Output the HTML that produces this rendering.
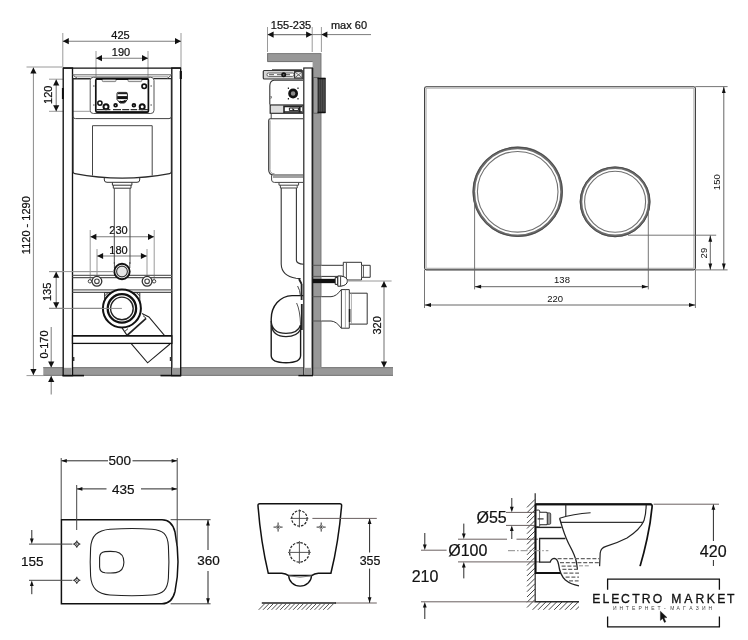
<!DOCTYPE html>
<html lang="ru">
<head>
<meta charset="utf-8">
<title>Схема — ELECTRO MARKET</title>
<style>
html,body{margin:0;padding:0;background:#fff;}
body{width:748px;height:640px;overflow:hidden;}
svg{display:block;font-family:"Liberation Sans",sans-serif;filter:blur(0.35px);}
svg text{font-family:"Liberation Sans",sans-serif;}
</style>
</head>
<body>
<svg width="748" height="640" viewBox="0 0 748 640">
<rect width="748" height="640" fill="#fff"/>
<g id="front">
<rect x="43.3" y="367.1" width="349.7" height="8.8" fill="#989898"/>
<line x1="43.3" y1="367.7" x2="393" y2="367.7" stroke="#808080" stroke-width="1.2" />
<line x1="43.3" y1="375.3" x2="393" y2="375.3" stroke="#808080" stroke-width="1.2" />
<line x1="62.8" y1="33" x2="62.8" y2="67" stroke="#9a9a9a" stroke-width="1" />
<line x1="181" y1="33" x2="181" y2="67" stroke="#9a9a9a" stroke-width="1" />
<line x1="96" y1="51" x2="96" y2="78" stroke="#9a9a9a" stroke-width="1" />
<line x1="148" y1="51" x2="148" y2="78" stroke="#9a9a9a" stroke-width="1" />
<line x1="62.8" y1="41.2" x2="181" y2="41.2" stroke="#7c7c7c" stroke-width="1.1" />
<polygon points="62.8,41.2 68.8,38.1 68.8,44.3" fill="#111"/>
<polygon points="181.0,41.2 175.0,38.1 175.0,44.3" fill="#111"/>
<text x="120.5" y="38.8" font-size="11" text-anchor="middle" fill="#111"  stroke="#111" stroke-width="0.22">425</text>
<line x1="96" y1="58.2" x2="148" y2="58.2" stroke="#7c7c7c" stroke-width="1.1" />
<polygon points="96.0,58.2 102.0,55.1 102.0,61.3" fill="#111"/>
<polygon points="148.0,58.2 142.0,55.1 142.0,61.3" fill="#111"/>
<text x="121" y="56.2" font-size="11" text-anchor="middle" fill="#111"  stroke="#111" stroke-width="0.22">190</text>
<line x1="26.5" y1="67" x2="62" y2="67" stroke="#9a9a9a" stroke-width="1" />
<line x1="26.5" y1="375.6" x2="43.5" y2="375.6" stroke="#9a9a9a" stroke-width="1" />
<line x1="33.4" y1="67.5" x2="33.4" y2="375" stroke="#8a8a8a" stroke-width="1" />
<polygon points="33.4,67.5 30.3,73.5 36.5,73.5" fill="#111"/>
<polygon points="33.4,375.0 30.3,369.0 36.5,369.0" fill="#111"/>
<text x="30.3" y="225.2" font-size="11" text-anchor="middle" fill="#111" transform="rotate(-90 30.3 225.2)"  stroke="#111" stroke-width="0.22">1120 - 1290</text>
<line x1="49" y1="79.2" x2="90" y2="79.2" stroke="#9a9a9a" stroke-width="1" />
<line x1="49" y1="111.3" x2="90" y2="111.3" stroke="#9a9a9a" stroke-width="1" />
<line x1="56.2" y1="79.4" x2="56.2" y2="111.2" stroke="#7c7c7c" stroke-width="1.1" />
<polygon points="56.2,79.4 53.1,85.4 59.3,85.4" fill="#111"/>
<polygon points="56.2,111.2 53.1,105.2 59.3,105.2" fill="#111"/>
<text x="52.5" y="94.8" font-size="11" text-anchor="middle" fill="#111" transform="rotate(-90 52.5 94.8)"  stroke="#111" stroke-width="0.22">120</text>
<line x1="49" y1="271.6" x2="114" y2="271.6" stroke="#9a9a9a" stroke-width="1" />
<line x1="49" y1="308.3" x2="122" y2="308.3" stroke="#9a9a9a" stroke-width="1" />
<line x1="56.2" y1="271.8" x2="56.2" y2="308.2" stroke="#7c7c7c" stroke-width="1.1" />
<polygon points="56.2,271.8 53.1,277.8 59.3,277.8" fill="#111"/>
<polygon points="56.2,308.2 53.1,302.2 59.3,302.2" fill="#111"/>
<text x="51.1" y="291.8" font-size="11" text-anchor="middle" fill="#111" transform="rotate(-90 51.1 291.8)"  stroke="#111" stroke-width="0.22">135</text>
<line x1="51.2" y1="327" x2="51.2" y2="367" stroke="#7c7c7c" stroke-width="1" />
<polygon points="51.2,367.6 48.1,361.6 54.3,361.6" fill="#111"/>
<line x1="51.2" y1="376" x2="51.2" y2="394.5" stroke="#7c7c7c" stroke-width="1" />
<polygon points="51.2,376.0 48.1,382.0 54.3,382.0" fill="#111"/>
<text x="47.5" y="344.5" font-size="11" text-anchor="middle" fill="#111" transform="rotate(-90 47.5 344.5)"  stroke="#111" stroke-width="0.22">0-170</text>
<line x1="90.2" y1="230" x2="90.2" y2="281" stroke="#9a9a9a" stroke-width="1" />
<line x1="154.2" y1="230" x2="154.2" y2="281" stroke="#9a9a9a" stroke-width="1" />
<line x1="97" y1="249" x2="97" y2="276" stroke="#9a9a9a" stroke-width="1" />
<line x1="147" y1="249" x2="147" y2="276" stroke="#9a9a9a" stroke-width="1" />
<line x1="90.4" y1="236.8" x2="154" y2="236.8" stroke="#7c7c7c" stroke-width="1.1" />
<polygon points="90.4,236.8 96.4,233.7 96.4,239.9" fill="#111"/>
<polygon points="154.0,236.8 148.0,233.7 148.0,239.9" fill="#111"/>
<text x="118.5" y="234.2" font-size="11" text-anchor="middle" fill="#111"  stroke="#111" stroke-width="0.22">230</text>
<line x1="97.1" y1="256" x2="146.9" y2="256" stroke="#7c7c7c" stroke-width="1.1" />
<polygon points="97.1,256.0 103.1,252.9 103.1,259.1" fill="#111"/>
<polygon points="146.9,256.0 140.9,252.9 140.9,259.1" fill="#111"/>
<text x="118.5" y="253.8" font-size="11" text-anchor="middle" fill="#111"  stroke="#111" stroke-width="0.22">180</text>
<rect x="63.2" y="68" width="9.3" height="307.6" rx="0" fill="#fff" stroke="#111" stroke-width="1.35" />
<rect x="171.8" y="68" width="8.9" height="307.6" rx="0" fill="#fff" stroke="#111" stroke-width="1.35" />
<rect x="64" y="367.8" width="7.8" height="7.4" fill="#989898"/>
<rect x="172.6" y="367.8" width="7.4" height="7.4" fill="#989898"/>
<line x1="62.5" y1="375.6" x2="84" y2="375.6" stroke="#111" stroke-width="1.6" />
<line x1="160.5" y1="375.6" x2="181" y2="375.6" stroke="#111" stroke-width="1.6" />
<line x1="180.8" y1="71" x2="180.8" y2="79" stroke="#111" stroke-width="2.2" />
<line x1="62.9" y1="88" x2="62.9" y2="99" stroke="#111" stroke-width="2" />
<line x1="63" y1="68" x2="181" y2="68" stroke="#111" stroke-width="1.25" />
<line x1="72.5" y1="74.8" x2="171.8" y2="74.8" stroke="#666" stroke-width="1" />
<line x1="76" y1="76.8" x2="168" y2="76.8" stroke="#999" stroke-width="1" />
<path d="M73,78.6 H171.4 V171.6 Q171.4,173.4 169.6,173.6 Q122,182.6 74.8,173.6 Q73,173.4 73,171.6 Z" fill="none" stroke="#2a2a2a" stroke-width="1.2" />
<path d="M73,116.5 Q73,118.6 75.5,118.6 H169 Q171.4,118.6 171.4,116.5" fill="none" stroke="#444" stroke-width="1" />
<path d="M73.5,75.5 l4,3 M171,75.5 l-4,3" fill="none" stroke="#555" stroke-width="1" />
<path d="M92.5,175.6 V125.7 H152.2 V175.6" fill="none" stroke="#444" stroke-width="1" />
<path d="M104.3,177.4 V180 Q104.3,182.3 107,182.3 H137 Q139.7,182.3 139.7,180 V177.4" fill="none" stroke="#333" stroke-width="1" />
<path d="M112.4,182.4 V185.2 H131.9 V182.4 M113.3,185.2 V188.2 H131 V185.2" fill="none" stroke="#333" stroke-width="1" />
<line x1="114.3" y1="188.2" x2="114.3" y2="264" stroke="#4a4a4a" stroke-width="1" />
<line x1="130" y1="188.2" x2="130" y2="264" stroke="#4a4a4a" stroke-width="1" />
<rect x="90.2" y="77.3" width="63.8" height="36.2" rx="3.2" fill="#fff" stroke="#555" stroke-width="1" />
<path d="M93,86 h1.6 M93,105 h1.6 M150.4,86 h1.6 M150.4,105 h1.6" fill="none" stroke="#555" stroke-width="1" />
<rect x="95.8" y="78.9" width="52.6" height="33.2" rx="1.4" fill="#fff" stroke="#111" stroke-width="1.7" />
<line x1="96" y1="79" x2="148.2" y2="79" stroke="#111" stroke-width="2.2" />
<rect x="102.2" y="79.7" width="13.8" height="1.9" rx="0.9" fill="#fff" stroke="#777" stroke-width="0.9" />
<rect x="128" y="79.7" width="13.8" height="1.9" rx="0.9" fill="#fff" stroke="#777" stroke-width="0.9" />
<circle cx="144.2" cy="86.3" r="2.2" fill="none" stroke="#111" stroke-width="1.7" />
<circle cx="99.9" cy="103.1" r="2.1" fill="none" stroke="#111" stroke-width="1.5" />
<circle cx="106" cy="106.8" r="2.5" fill="none" stroke="#111" stroke-width="2" />
<circle cx="142.2" cy="106.8" r="2.5" fill="none" stroke="#111" stroke-width="2" />
<circle cx="115.6" cy="105.3" r="1.4" fill="none" stroke="#111" stroke-width="1.8" />
<circle cx="133.9" cy="105.3" r="1.4" fill="none" stroke="#111" stroke-width="1.8" />
<path d="M96.4,109.7 h14 M113,109.7 h8 M122.2,109.7 h7 M130.6,109.7 h6.6 M138.6,109.7 h9.4" fill="none" stroke="#333" stroke-width="1.3" />
<line x1="96" y1="112" x2="148.2" y2="112" stroke="#111" stroke-width="1.2" />
<path d="M117,93.6 q0,-1.2 1.2,-1.2 h8 q1.2,0 1.2,1.2 v5.8 l-2.8,3.6 h-4.6 l-3,-3.6 z" fill="#fff" stroke="#222" stroke-width="1" />
<path d="M117.2,97.6 h10" fill="none" stroke="#111" stroke-width="3" />
<path d="M117.6,93.6 h9.4" fill="none" stroke="#222" stroke-width="1.2" />
<path d="M119.4,101.2 q2.6,2 6.4,-0.6" fill="none" stroke="#111" stroke-width="2" />
<line x1="72.5" y1="275.3" x2="171.8" y2="275.3" stroke="#666" stroke-width="1.2" />
<line x1="72.5" y1="277.6" x2="171.8" y2="277.6" stroke="#555" stroke-width="1.2" />
<line x1="72.5" y1="289.9" x2="171.8" y2="289.9" stroke="#666" stroke-width="1.2" />
<line x1="72.5" y1="292.4" x2="171.8" y2="292.4" stroke="#555" stroke-width="1.2" />
<line x1="114.4" y1="262" x2="114.4" y2="268" stroke="#4a4a4a" stroke-width="1" />
<line x1="129.8" y1="262" x2="129.8" y2="268" stroke="#4a4a4a" stroke-width="1" />
<circle cx="122" cy="271.5" r="7.7" fill="#fff" stroke="#111" stroke-width="1.9" />
<circle cx="122" cy="271.5" r="5.4" fill="#e6e6e6" stroke="#333" stroke-width="1.1" />
<circle cx="89.9" cy="281.3" r="1.7" fill="#fff" stroke="#444" stroke-width="1" />
<circle cx="96.9" cy="281.3" r="4.9" fill="#fff" stroke="#333" stroke-width="1.3" />
<circle cx="96.9" cy="281.3" r="2.3" fill="none" stroke="#444" stroke-width="1.1" />
<circle cx="154.1" cy="281.3" r="1.7" fill="#fff" stroke="#444" stroke-width="1" />
<circle cx="147.1" cy="281.3" r="4.9" fill="#fff" stroke="#333" stroke-width="1.3" />
<circle cx="147.1" cy="281.3" r="2.3" fill="none" stroke="#444" stroke-width="1.1" />
<path d="M104.6,308 V292.6 H139.8 V308 M104.6,296 l3.4,-3.4 M139.8,296 l-3.4,-3.4" fill="none" stroke="#333" stroke-width="1" />
<path d="M141.9,313.4 L148.9,316.9 L164.4,335.4 M122.2,328.1 L127.1,335.4" fill="none" stroke="#222" stroke-width="1.1" />
<path d="M127.1,335.4 L146.1,318.3" fill="none" stroke="#222" stroke-width="1.8" />
<path d="M124.6,331.6 l3.4,-3 M143,315.6 l3,2.6" fill="none" stroke="#333" stroke-width="1" />
<path d="M131,343.4 L147.6,362.8 L170,344" fill="none" stroke="#222" stroke-width="1.1" />
<circle cx="121.9" cy="308.4" r="19" fill="#fff" stroke="#111" stroke-width="2" />
<circle cx="121.9" cy="308.4" r="14.2" fill="none" stroke="#111" stroke-width="2.3" />
<circle cx="121.9" cy="308.4" r="11.3" fill="none" stroke="#222" stroke-width="1.4" />
<line x1="49" y1="308.4" x2="121.9" y2="308.4" stroke="#888" stroke-width="1" />
<line x1="49" y1="271.6" x2="114" y2="271.6" stroke="#999" stroke-width="1" />
<rect x="72.5" y="335.8" width="99.3" height="7.6" rx="0" fill="#fff" stroke="#111" stroke-width="1.3" />
<line x1="72.5" y1="335.7" x2="171.8" y2="335.7" stroke="#111" stroke-width="1.5" />
<path d="M73.6,357 v4 M170.6,357 v4" fill="none" stroke="#333" stroke-width="1.6" />
</g>
<g id="side">
<path d="M267.4,53.1 H321.3 V367.8 H312.6 V61.8 H267.4 Z" fill="#989898"/>
<path d="M267.6,53.3 V61.6 H312.6" fill="none" stroke="#5c5c5c" stroke-width="0.8" />
<line x1="320.8" y1="54" x2="320.8" y2="367" stroke="#808080" stroke-width="1.1" />
<line x1="267.4" y1="53.6" x2="321.3" y2="53.6" stroke="#808080" stroke-width="1" />
<line x1="267.5" y1="27" x2="267.5" y2="52" stroke="#9a9a9a" stroke-width="1" />
<line x1="312.2" y1="27" x2="312.2" y2="52" stroke="#9a9a9a" stroke-width="1" />
<line x1="321.4" y1="27" x2="321.4" y2="52" stroke="#9a9a9a" stroke-width="1" />
<line x1="267.6" y1="34.6" x2="312.1" y2="34.6" stroke="#7c7c7c" stroke-width="1.1" />
<polygon points="267.6,34.6 273.6,31.5 273.6,37.7" fill="#111"/>
<polygon points="312.1,34.6 306.1,31.5 306.1,37.7" fill="#111"/>
<text x="291" y="28.5" font-size="11" text-anchor="middle" fill="#111"  stroke="#111" stroke-width="0.22">155-235</text>
<line x1="312" y1="34.6" x2="371" y2="34.6" stroke="#7c7c7c" stroke-width="1" />
<polygon points="321.4,34.6 327.4,31.5 327.4,37.7" fill="#111"/>
<text x="349" y="28.7" font-size="11" text-anchor="middle" fill="#111"  stroke="#111" stroke-width="0.22">max 60</text>
<path d="M281.2,188 V264 Q281.6,276 296,278.2 L300.6,278.6" fill="none" stroke="#333" stroke-width="1.1" />
<path d="M296.4,188 V260.4 Q296.6,263.8 303.6,264.2" fill="none" stroke="#333" stroke-width="1.1" />
<path d="M303.4,295.6 H292 C280,296 271.2,306 271.2,319 V355.6 Q271.2,362.8 286,362.8 Q300.6,362.8 300.6,355.6 V325" fill="#fff" stroke="#1a1a1a" stroke-width="1.4" />
<path d="M271.2,321 Q272,333.4 286,333.4 Q298,333.4 300.6,325 M271.4,325.4 Q273,336.6 286,336.6 Q297.4,336.6 300.4,329.6" fill="none" stroke="#222" stroke-width="1.3" />
<path d="M300.6,325 Q300,310 296.6,303" fill="none" stroke="#555" stroke-width="1" />
<path d="M299,279 l2.6,5 M301.6,284 V300 M301.8,304 V330" fill="none" stroke="#222" stroke-width="1.8" />
<path d="M297.6,286 Q300,290 300.4,295.6" fill="none" stroke="#444" stroke-width="1" />
<rect x="303.8" y="68" width="8.6" height="307.4" rx="0" fill="#fff" stroke="#222" stroke-width="1.2" />
<line x1="312.5" y1="68" x2="312.5" y2="375" stroke="#222" stroke-width="1.6" />
<rect x="304.6" y="367.8" width="7.2" height="7.2" fill="#989898"/>
<line x1="298.4" y1="375.6" x2="313" y2="375.6" stroke="#111" stroke-width="1.4" />
<rect x="313.4" y="77.6" width="4.8" height="35.6" fill="#9a9a9a" stroke="#555" stroke-width="0.8"/>
<rect x="318.2" y="78.4" width="7" height="34" rx="0" fill="#4e4e4e" stroke="#222" stroke-width="1" />
<path d="M320.4,79 V112 M322.6,79 V112" fill="none" stroke="#3a3a3a" stroke-width="1" />
<path d="M317.6,78.4 H325.4 M317.6,112.4 H325.4" fill="none" stroke="#111" stroke-width="1.5" />
<rect x="263.3" y="70.5" width="39.8" height="8.5" rx="1" fill="#d4d4d4" stroke="#333" stroke-width="1.2" />
<rect x="267" y="73" width="27" height="3.4" rx="1.5" fill="#fff" stroke="#555" stroke-width="0.9" />
<path d="M269,74.7 h5 M277,74.7 h13" fill="none" stroke="#555" stroke-width="1" />
<circle cx="283.7" cy="74.8" r="1.7" fill="#666" stroke="#111" stroke-width="1.6" />
<rect x="294.6" y="71.6" width="7.6" height="6.4" rx="0" fill="#eee" stroke="#333" stroke-width="1.1" />
<path d="M295,72 l7,5.6 M302,72 l-7,5.6" fill="none" stroke="#555" stroke-width="0.9" />
<line x1="272" y1="69.9" x2="302" y2="69.9" stroke="#333" stroke-width="1.2" />
<path d="M303,80.3 H274 Q269.9,80.6 269.8,86 V104.4" fill="none" stroke="#333" stroke-width="1.1" />
<path d="M270.8,96 q1.2,1 0,2.6" fill="none" stroke="#555" stroke-width="1" />
<rect x="270.2" y="105" width="32.8" height="8.2" rx="0" fill="#fff" stroke="#222" stroke-width="1.2" />
<rect x="271" y="106" width="12.4" height="6.4" fill="#ddd"/>
<path d="M284,105.4 V113 M284.6,106.4 h17.6 M284.6,112 h17.6" fill="none" stroke="#222" stroke-width="1.6" />
<path d="M289.4,108 h9 v2.6 h-9 z" fill="#fff" stroke="#222" stroke-width="1" />
<path d="M292.4,108.6 l1.6,1.6" fill="none" stroke="#111" stroke-width="1.3" />
<path d="M299.6,106 v6.6" fill="none" stroke="#222" stroke-width="2" />
<path d="M270.4,113.4 H303 M271.2,113.4 V118.6" fill="none" stroke="#444" stroke-width="1" />
<path d="M303,118.7 H270.4 Q268.7,118.7 268.7,120.6 V170 Q268.8,175 274.2,175 H303" fill="none" stroke="#333" stroke-width="1.1" />
<path d="M270,120.4 V169.6 Q270.2,173.8 274.6,173.8" fill="none" stroke="#888" stroke-width="0.9" />
<path d="M271.6,175.2 V180 Q271.8,182.4 274.4,182.4 H303 M273,177 H303" fill="none" stroke="#444" stroke-width="1" />
<path d="M279,182.6 V185.2 H298.6 V182.6 M280.4,185.2 V188 H297.2 V185.2" fill="none" stroke="#444" stroke-width="1" />
<circle cx="293.1" cy="93.5" r="3.6" fill="#8a8a8a" stroke="#111" stroke-width="2.6" />
<path d="M287.8,88.2 h1.2 M297.4,88.2 h1.2 M287.8,98.8 h1.2 M297.4,98.8 h1.2" fill="none" stroke="#222" stroke-width="1.4" />
<path d="M321.3,265.3 H343.3 V262.3 H361.5 V265.3 H370.2 V277.3 H361.5 V280 H343.3 V276.4 H321.3" fill="#fff" stroke="#333" stroke-width="1" />
<path d="M343.3,265.3 V276.4 M361.5,265.3 V277.3 M346.4,262.3 V280 M363.4,265.3 V277.3" fill="none" stroke="#555" stroke-width="1" />
<line x1="312.6" y1="281" x2="335.4" y2="281" stroke="#111" stroke-width="4.3" />
<path d="M312.6,265.3 H321.3 M312.6,276.4 H321.3 M312.6,296.7 H321.3 M312.6,321 H321.3" fill="none" stroke="#555" stroke-width="1" />
<path d="M335.2,277.6 h2.6 v6.8 h-2.6 z" fill="#fff" stroke="#222" stroke-width="1" />
<path d="M337.8,276 H341 Q347.4,277 347.4,281 Q347.4,285.2 341,286.2 H337.8 Z" fill="#fff" stroke="#222" stroke-width="1" />
<path d="M340.6,276.2 V286" fill="none" stroke="#444" stroke-width="1" />
<path d="M321.3,296.7 H331 Q336.6,296.4 341.2,289.6 H349.3 V293.2 H367.2 V324.1 H349.3 V328.2 H341.2 Q336.6,321.4 331,321 H321.3" fill="#fff" stroke="#333" stroke-width="1" />
<path d="M341.4,289.6 V328.2 M349.3,293.2 V324.1" fill="none" stroke="#444" stroke-width="1" />
<path d="M345.4,289.8 V328 M351.4,293.4 V324" fill="none" stroke="#999" stroke-width="0.8" />
<line x1="349.6" y1="309" x2="349.6" y2="322" stroke="#222" stroke-width="1.6" />
<line x1="347" y1="281" x2="391.6" y2="281" stroke="#9a9a9a" stroke-width="1" />
<line x1="384" y1="281.3" x2="384" y2="367.4" stroke="#7c7c7c" stroke-width="1.1" />
<polygon points="384.0,281.3 380.9,287.3 387.1,287.3" fill="#111"/>
<polygon points="384.0,367.4 380.9,361.4 387.1,361.4" fill="#111"/>
<text x="380.9" y="325.4" font-size="11" text-anchor="middle" fill="#111" transform="rotate(-90 380.9 325.4)"  stroke="#111" stroke-width="0.22">320</text>
</g>
<g id="plate">
<rect x="424.6" y="86.7" width="270.8" height="183.2" rx="1.8" fill="#fff" stroke="#3a3a3a" stroke-width="1.1" />
<rect x="426.1" y="88.2" width="267.8" height="180.2" rx="1" fill="none" stroke="#b8b8b8" stroke-width="1.2" />
<circle cx="517.7" cy="191.8" r="43.900000000000006" fill="#fff" stroke="#6c6c6c" stroke-width="2.6" />
<circle cx="517.7" cy="191.8" r="44.7" fill="none" stroke="#444" stroke-width="0.8" />
<circle cx="517.7" cy="191.8" r="40.300000000000004" fill="none" stroke="#707070" stroke-width="1.1" />
<circle cx="615.1" cy="201.8" r="34.1" fill="#fff" stroke="#6c6c6c" stroke-width="2.6" />
<circle cx="615.1" cy="201.8" r="34.9" fill="none" stroke="#444" stroke-width="0.8" />
<circle cx="615.1" cy="201.8" r="30.5" fill="none" stroke="#707070" stroke-width="1.1" />
<line x1="695.4" y1="86.6" x2="727.6" y2="86.6" stroke="#666" stroke-width="0.9" />
<line x1="695.4" y1="269.9" x2="727.6" y2="269.9" stroke="#666" stroke-width="0.9" />
<line x1="424.5" y1="270" x2="424.5" y2="308" stroke="#666" stroke-width="0.9" />
<line x1="695.4" y1="270" x2="695.4" y2="308" stroke="#666" stroke-width="0.9" />
<line x1="474.6" y1="192" x2="474.6" y2="289.4" stroke="#666" stroke-width="0.9" />
<line x1="648.3" y1="204" x2="648.3" y2="289.4" stroke="#666" stroke-width="0.9" />
<line x1="628" y1="235.2" x2="716.2" y2="235.2" stroke="#666" stroke-width="0.9" />
<line x1="723.8" y1="86.8" x2="723.8" y2="269.8" stroke="#555" stroke-width="0.9" />
<polygon points="723.8,86.8 721.9,93.1 725.7,93.1" fill="#111"/>
<polygon points="723.8,269.8 721.9,263.5 725.7,263.5" fill="#111"/>
<text x="720.0" y="182.2" font-size="9.5" text-anchor="middle" fill="#111" transform="rotate(-90 720.0 182.2)" >150</text>
<line x1="710.3" y1="235.4" x2="710.3" y2="269.8" stroke="#555" stroke-width="0.9" />
<polygon points="710.3,235.4 708.4,241.7 712.2,241.7" fill="#111"/>
<polygon points="710.3,269.8 708.4,263.5 712.2,263.5" fill="#111"/>
<text x="707.0" y="253.1" font-size="9.5" text-anchor="middle" fill="#111" transform="rotate(-90 707.0 253.1)" >29</text>
<line x1="474.8" y1="286.7" x2="648.2" y2="286.7" stroke="#555" stroke-width="0.9" />
<polygon points="474.8,286.7 481.1,284.8 481.1,288.6" fill="#111"/>
<polygon points="648.2,286.7 641.9,284.8 641.9,288.6" fill="#111"/>
<text x="562" y="282.6" font-size="9.5" text-anchor="middle" fill="#111" >138</text>
<line x1="424.7" y1="305" x2="695.3" y2="305" stroke="#555" stroke-width="0.9" />
<polygon points="424.7,305.0 431.0,303.1 431.0,306.9" fill="#111"/>
<polygon points="695.3,305.0 689.0,303.1 689.0,306.9" fill="#111"/>
<text x="555.2" y="301.8" font-size="9.5" text-anchor="middle" fill="#111" >220</text>
</g>
<g id="top">
<line x1="61.4" y1="460.8" x2="108" y2="460.8" stroke="#2a2a2a" stroke-width="1" />
<line x1="132.5" y1="460.8" x2="177" y2="460.8" stroke="#2a2a2a" stroke-width="1" />
<polygon points="61.3,460.8 66.8,458.9 66.8,462.7" fill="#111"/>
<polygon points="177.1,460.8 171.6,458.9 171.6,462.7" fill="#111"/>
<text x="119.7" y="464.8" font-size="13.5" text-anchor="middle" fill="#111"  stroke="#111" stroke-width="0.2">500</text>
<line x1="77" y1="488.9" x2="106.5" y2="488.9" stroke="#2a2a2a" stroke-width="1" />
<line x1="141" y1="488.9" x2="177" y2="488.9" stroke="#2a2a2a" stroke-width="1" />
<polygon points="76.9,488.9 82.4,487.0 82.4,490.8" fill="#111"/>
<polygon points="177.1,488.9 171.6,487.0 171.6,490.8" fill="#111"/>
<text x="123.2" y="493.6" font-size="13.5" text-anchor="middle" fill="#111"  stroke="#111" stroke-width="0.2">435</text>
<path d="M61.4,519.8 H162 Q172,519.8 175,532 Q178,547 178,561.8 Q178,577 175,591.5 Q172,603.8 162,603.8 H61.4 Z" fill="#fff" stroke="#111" stroke-width="1.5" />
<path d="M110,529.2 Q133,527.8 152,529.2 C163,530.2 167.6,534 168.4,546 Q169.4,561.8 168.4,578 C167.6,590 163,594 152,595 Q133,596.4 110,595 C97,594 91.4,588 90.6,576 Q89.8,561.8 90.6,548 C91.4,536 97,530.2 110,529.2 Z" fill="none" stroke="#222" stroke-width="1.1" />
<path d="M105,551.6 Q112,551 116,551.8 C121.6,553 123.9,556.4 123.9,562.2 C123.9,568 121.6,571.4 116,572.6 Q112,573.4 105,572.8 Q99.8,572.2 99.6,567 V557.4 Q99.8,552.2 105,551.6 Z" fill="none" stroke="#222" stroke-width="1.1" />
<line x1="61.2" y1="458" x2="61.2" y2="519" stroke="#444" stroke-width="1" />
<line x1="177.2" y1="458" x2="177.2" y2="546" stroke="#444" stroke-width="1" />
<line x1="76.7" y1="485" x2="76.7" y2="530" stroke="#444" stroke-width="1" />
<line x1="29" y1="544.1" x2="72.4" y2="544.1" stroke="#444" stroke-width="1" />
<path d="M76.8,540.5 v7.2 M73.2,544.1 h7.2" fill="none" stroke="#333" stroke-width="1" />
<path d="M76.8,541.6 L79.3,544.1 L76.8,546.6 L74.3,544.1 Z" fill="#fff" stroke="#333" stroke-width="1.1" />
<path d="M76.8,543.3000000000001 v1.6" fill="none" stroke="#555" stroke-width="1.2" />
<line x1="29" y1="580.3" x2="72.4" y2="580.3" stroke="#444" stroke-width="1" />
<path d="M76.8,576.6999999999999 v7.2 M73.2,580.3 h7.2" fill="none" stroke="#333" stroke-width="1" />
<path d="M76.8,577.8 L79.3,580.3 L76.8,582.8 L74.3,580.3 Z" fill="#fff" stroke="#333" stroke-width="1.1" />
<path d="M76.8,579.5 v1.6" fill="none" stroke="#555" stroke-width="1.2" />
<line x1="31.8" y1="530" x2="31.8" y2="540" stroke="#2a2a2a" stroke-width="1" />
<polygon points="31.8,543.9 29.9,538.4 33.7,538.4" fill="#111"/>
<line x1="31.8" y1="584" x2="31.8" y2="594.2" stroke="#2a2a2a" stroke-width="1" />
<polygon points="31.8,580.5 29.9,586.0 33.7,586.0" fill="#111"/>
<text x="32.2" y="566.2" font-size="13.5" text-anchor="middle" fill="#111"  stroke="#111" stroke-width="0.2">155</text>
<line x1="170.6" y1="519.7" x2="210.6" y2="519.7" stroke="#444" stroke-width="1" />
<line x1="170.6" y1="603.8" x2="210.6" y2="603.8" stroke="#444" stroke-width="1" />
<line x1="208" y1="520" x2="208" y2="550" stroke="#2a2a2a" stroke-width="1" />
<line x1="208" y1="571" x2="208" y2="603.6" stroke="#2a2a2a" stroke-width="1" />
<polygon points="208.0,519.9 206.1,525.4 209.9,525.4" fill="#111"/>
<polygon points="208.0,603.7 206.1,598.2 209.9,598.2" fill="#111"/>
<text x="208.6" y="565.2" font-size="13.5" text-anchor="middle" fill="#111"  stroke="#111" stroke-width="0.2">360</text>
</g>
<g id="back">
<path d="M259.8,503.8 H339.8 Q341.8,503.8 341.6,505.8 Q338.6,542 330.9,573.3 H318.4 Q314.4,573.5 311.6,575.6 H288.6 Q285.8,573.5 281.8,573.3 H268.3 Q260.8,542 258,505.8 Q257.8,503.8 259.8,503.8 Z" fill="#fff" stroke="#111" stroke-width="1.5" />
<line x1="312.4" y1="518.4" x2="376.8" y2="518.4" stroke="#6a6060" stroke-width="1" />
<line x1="335" y1="603" x2="376.8" y2="603" stroke="#6a6060" stroke-width="1" />
<path d="M288.7,575.6 A11.4,10.6 0 0 0 311.5,575.6" fill="none" stroke="#111" stroke-width="1.3" />
<path d="M288.7,575.8 Q300,578.6 311.5,575.8" fill="none" stroke="#777" stroke-width="1" />
<circle cx="299.4" cy="518.4" r="7.7" fill="none" stroke="#222" stroke-width="1.2" stroke-dasharray="2.6 1.3"/>
<path d="M299.4,509.4 v18 M290.4,518.4 h18" fill="none" stroke="#444" stroke-width="0.9" />
<circle cx="299.4" cy="552.4" r="9.8" fill="none" stroke="#222" stroke-width="1.2" stroke-dasharray="2.6 1.3"/>
<path d="M299.4,541 v22.8 M288,552.4 h22.8" fill="none" stroke="#444" stroke-width="0.9" />
<path d="M278.1,522.5 v9.2 M273.5,527.1 h9.2" fill="none" stroke="#333" stroke-width="1" stroke-dasharray="2.3 1.1"/>
<path d="M278.1,524.7 L280.5,527.1 L278.1,529.5 L275.70000000000005,527.1 Z" fill="none" stroke="#555" stroke-width="0.9" />
<path d="M321.2,522.5 v9.2 M316.59999999999997,527.1 h9.2" fill="none" stroke="#333" stroke-width="1" stroke-dasharray="2.3 1.1"/>
<path d="M321.2,524.7 L323.59999999999997,527.1 L321.2,529.5 L318.8,527.1 Z" fill="none" stroke="#555" stroke-width="0.9" />
<line x1="261.8" y1="603" x2="336" y2="603" stroke="#222" stroke-width="1.3" />
<path d="M258.7,609.8 L265.0,603.4 M263.0,609.8 L269.3,603.4 M267.3,609.8 L273.6,603.4 M271.6,609.8 L277.9,603.4 M275.9,609.8 L282.2,603.4 M280.2,609.8 L286.5,603.4 M284.5,609.8 L290.8,603.4 M288.8,609.8 L295.1,603.4 M293.1,609.8 L299.4,603.4 M297.4,609.8 L303.7,603.4 M301.7,609.8 L308.0,603.4 M306.0,609.8 L312.3,603.4 M310.3,609.8 L316.6,603.4 M314.6,609.8 L320.9,603.4 M318.9,609.8 L325.2,603.4 M323.2,609.8 L329.5,603.4 M327.5,609.8 L333.8,603.4 " fill="none" stroke="#4a4a4a" stroke-width="0.95" />
<line x1="369.6" y1="519" x2="369.6" y2="552.5" stroke="#2a2a2a" stroke-width="1" />
<line x1="369.6" y1="568.6" x2="369.6" y2="602.8" stroke="#2a2a2a" stroke-width="1" />
<polygon points="369.6,518.6 367.7,524.1 371.5,524.1" fill="#111"/>
<polygon points="369.6,602.8 367.7,597.3 371.5,597.3" fill="#111"/>
<text x="370" y="565.4" font-size="12.4" text-anchor="middle" fill="#111"  stroke="#111" stroke-width="0.2">355</text>
</g>
<g id="section">
<path d="M527.0,507.4 L535.0,499.4 M527.0,512.7 L535.0,504.7 M527.0,517.9 L535.0,509.9 M527.0,523.2 L535.0,515.2 M527.0,528.5 L535.0,520.5 M527.0,533.7 L535.0,525.7 M527.0,539.0 L535.0,531.0 M527.0,544.3 L535.0,536.3 M527.0,549.6 L535.0,541.6 M527.0,554.8 L535.0,546.8 M527.0,560.1 L535.0,552.1 M527.0,565.4 L535.0,557.4 M527.0,570.6 L535.0,562.6 M527.0,575.9 L535.0,567.9 M527.0,581.2 L535.0,573.2 M527.0,586.4 L535.0,578.4 M527.0,591.7 L535.0,583.7 M527.0,597.0 L535.0,589.0 M527.0,602.3 L535.0,594.3 M527.0,607.5 L535.0,599.5 " fill="none" stroke="#444" stroke-width="1.0" />
<path d="M532.6,609.8 L540.4,602 M538.0,609.8 L545.8,602 M543.4,609.8 L551.2,602 M548.8,609.8 L556.6,602 M554.2,609.8 L562.0,602 M559.6,609.8 L567.4,602 M565.0,609.8 L572.8,602 M570.4,609.8 L578.2,602 M575.8,609.8 L583.6,602 M581.2,609.8 L589.0,602 " fill="none" stroke="#444" stroke-width="1.0" />
<line x1="535.2" y1="493.3" x2="535.2" y2="602" stroke="#3a3a3a" stroke-width="1.3" />
<line x1="534.6" y1="601.8" x2="592" y2="601.8" stroke="#2a2a2a" stroke-width="1.4" />
<line x1="653.6" y1="504.2" x2="719" y2="504.2" stroke="#6a6060" stroke-width="1" />
<line x1="506" y1="512.4" x2="538" y2="512.4" stroke="#6a6060" stroke-width="1" />
<line x1="506" y1="525.4" x2="538" y2="525.4" stroke="#6a6060" stroke-width="1" />
<line x1="458" y1="539.2" x2="507" y2="539.2" stroke="#6a6060" stroke-width="1" />
<line x1="516.5" y1="539.2" x2="538" y2="539.2" stroke="#6a6060" stroke-width="1" />
<line x1="458" y1="561.9" x2="540" y2="561.9" stroke="#6a6060" stroke-width="1" />
<line x1="421" y1="550.2" x2="446.6" y2="550.2" stroke="#6a6060" stroke-width="1" />
<line x1="421" y1="601.8" x2="535" y2="601.8" stroke="#6a6060" stroke-width="1" />
<path d="M535.4,504.3 H650.2 Q652.4,504.3 652.1,506.6 Q650.6,523 647,539 Q644,553 640,566.6" fill="none" stroke="#111" stroke-width="1.7" />
<line x1="535.4" y1="504.3" x2="651.6" y2="504.3" stroke="#111" stroke-width="1.9" />
<path d="M535.6,504 V573 H561" fill="none" stroke="#111" stroke-width="1.9" />
<path d="M565.8,504.6 V516.2" fill="none" stroke="#222" stroke-width="1.1" />
<path d="M646.2,505 Q646,514 644,520.6 Q640,530 627,538 Q616,543.6 606,546.4 Q600.6,548 600.2,553 L599.6,566.6" fill="none" stroke="#222" stroke-width="1.2" />
<path d="M560.6,522.4 H643.4" fill="none" stroke="#333" stroke-width="1.2" />
<path d="M559.6,518.2 Q573,514 590.6,512.8" fill="none" stroke="#222" stroke-width="1.1" />
<path d="M559.6,518.2 Q561,523 562.4,527.6 Q566,539 570.4,547 Q575,555.6 576.4,562 L577.4,569" fill="none" stroke="#222" stroke-width="1.3" />
<path d="M536,527.4 H561.6" fill="none" stroke="#222" stroke-width="1.4" />
<path d="M565.4,538.5 H539.6 V562.1 H550.2 Q551.6,558.4 554.4,558.4 Q557.4,558.6 558.6,564.6 Q560,575 565.4,580 Q571,584.6 579,585.8" fill="none" stroke="#222" stroke-width="1.3" />
<path d="M536,510.8 Q536,510.1 537,510.1 H538.6 Q539.7,510.1 539.7,511.2 V525.6 Q539.7,526.7 538.6,526.7 H537 Q536,526.7 536,526 Z" fill="#fff" stroke="#222" stroke-width="1" />
<path d="M539.7,512.3 H546.4 Q547.4,512.3 547.4,513.3 V523.8 Q547.4,524.8 546.4,524.8 H539.7" fill="#fff" stroke="#222" stroke-width="1.1" />
<path d="M547.4,512.9 H549.6 Q550.7,512.9 550.7,514 V523.2 Q550.7,524.3 549.6,524.3 H547.4 Z" fill="#999" stroke="#444" stroke-width="1" />
<path d="M537.6,518.9 h6" fill="none" stroke="#333" stroke-width="1.2" />
<path d="M508,550.7 H548.4" fill="none" stroke="#8a8a8a" stroke-width="1" stroke-dasharray="7 2 1.6 2"/>
<path d="M557.6,558.7 H599.6" fill="none" stroke="#666" stroke-width="1.25" stroke-dasharray="4 1.8"/>
<path d="M560,562.6 H598.8" fill="none" stroke="#666" stroke-width="1.25" stroke-dasharray="4 1.8"/>
<path d="M561.6,566 H590" fill="none" stroke="#666" stroke-width="1.25" stroke-dasharray="4 1.8"/>
<path d="M562.4,569.4 H581" fill="none" stroke="#666" stroke-width="1.25" stroke-dasharray="4 1.8"/>
<path d="M563.6,573.1 H579.6" fill="none" stroke="#666" stroke-width="1.25" stroke-dasharray="4 1.8"/>
<path d="M565.6,577 H579.4" fill="none" stroke="#666" stroke-width="1.25" stroke-dasharray="4 1.8"/>
<path d="M569,580.8 H578.6" fill="none" stroke="#666" stroke-width="1.25" stroke-dasharray="4 1.8"/>
<line x1="713.4" y1="504.6" x2="713.4" y2="541" stroke="#2a2a2a" stroke-width="1" />
<line x1="713.4" y1="560" x2="713.4" y2="566" stroke="#2a2a2a" stroke-width="1" />
<polygon points="713.4,504.2 711.5,509.7 715.3,509.7" fill="#111"/>
<text x="713.2" y="557.2" font-size="16" text-anchor="middle" fill="#111"  stroke="#111" stroke-width="0.2">420</text>
<line x1="511.8" y1="498" x2="511.8" y2="508" stroke="#2a2a2a" stroke-width="1" />
<polygon points="511.8,512.2 509.9,506.7 513.7,506.7" fill="#111"/>
<line x1="511.8" y1="529" x2="511.8" y2="539" stroke="#2a2a2a" stroke-width="1" />
<polygon points="511.8,525.6 509.9,531.1 513.7,531.1" fill="#111"/>
<text x="491.6" y="522.8" font-size="16" text-anchor="middle" fill="#111"  stroke="#111" stroke-width="0.2">Ø55</text>
<line x1="463.8" y1="523.6" x2="463.8" y2="535" stroke="#2a2a2a" stroke-width="1" />
<polygon points="463.8,539.0 461.9,533.5 465.7,533.5" fill="#111"/>
<line x1="463.8" y1="565.4" x2="463.8" y2="578.4" stroke="#2a2a2a" stroke-width="1" />
<polygon points="463.8,562.1 461.9,567.6 465.7,567.6" fill="#111"/>
<text x="467.8" y="555.7" font-size="16" text-anchor="middle" fill="#111"  stroke="#111" stroke-width="0.2">Ø100</text>
<line x1="424.8" y1="533" x2="424.8" y2="546" stroke="#2a2a2a" stroke-width="1" />
<polygon points="424.8,550.0 422.9,544.5 426.7,544.5" fill="#111"/>
<line x1="424.8" y1="605.6" x2="424.8" y2="619" stroke="#2a2a2a" stroke-width="1" />
<polygon points="424.8,602.0 422.9,607.5 426.7,607.5" fill="#111"/>
<text x="425" y="582.1" font-size="16" text-anchor="middle" fill="#111"  stroke="#111" stroke-width="0.2">210</text>
</g>
<g id="logo">
<rect x="579" y="566.3" width="169" height="73.7" fill="#fff"/>
<path d="M607.6,589.8 V579.1 H719.4 V589.8 M607.6,616.5 V626.8 H719.4 V616.5" fill="none" stroke="#111" stroke-width="1.3" />
<text x="592.24 602.41 611.24 621.12 632.13 641.78 652.81 665.00 671.32 684.28 695.38 706.70 717.34 726.93" y="603.4" font-size="12.2" fill="#111" stroke="#111" stroke-width="0.3" text-anchor="start">ELECTRO MARKET</text>
<text x="613.0 619.4 625.7 632.1 638.4 644.8 651.2 657.5 663.9 670.2 676.6 683.0 689.3 695.7 702.0 708.4" y="609.8" font-size="5" fill="#444" text-anchor="start">ИНТЕРНЕТ-МАГАЗИН</text>
<path d="M660.4,611.2 L660.4,620.4 L662.6,618.4 L664.4,622.4 L665.8,621.8 L664,617.8 L667,617.6 Z" fill="#111" stroke="#111" stroke-width="0.4" />
</g>
</svg>
</body>
</html>
